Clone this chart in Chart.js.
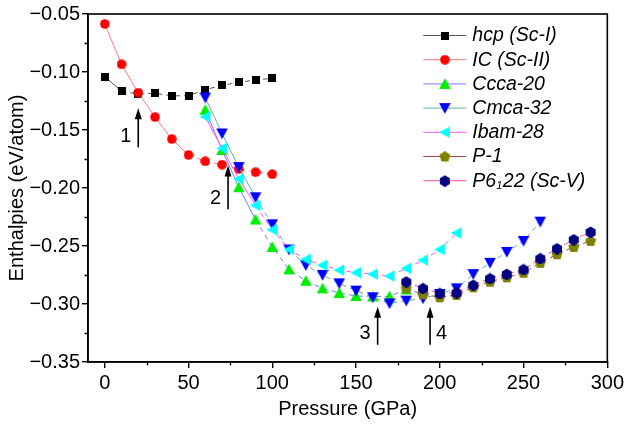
<!DOCTYPE html>
<html><head><meta charset="utf-8">
<script src="https://cdn.jsdelivr.net/npm/chart.js@4/dist/chart.umd.min.js"></script>
<style>html,body{margin:0;padding:0;background:#fff}canvas{display:block}</style>
</head><body><canvas id="c" width="627" height="424"></canvas>
<script>
// ---- data ----
const pressHcpIC = [0,10,20,30,40,50,60,70,80,90,100];
const hcpEnth = [-0.1040,-0.1166,-0.1190,-0.1183,-0.1206,-0.1204,-0.1152,-0.1115,-0.1089,-0.1069,-0.1054];
const icEnth  = [-0.0586,-0.0934,-0.1178,-0.1389,-0.1578,-0.1715,-0.1770,-0.1798,-0.1836,-0.1864,-0.1881];
const pressCcca = [60,70,80,90,100,110,120,130,140,150,160,170,180];
const cccaEnth  = [-0.1326,-0.1672,-0.1993,-0.2272,-0.2508,-0.2702,-0.2800,-0.2865,-0.2905,-0.2931,-0.2935,-0.2934,-0.2875];
const pressCmca = [60,70,80,90,100,110,120,130,140,150,160,170,180,190,200,210,220,230,240,250,260];
const cmcaEnth  = [-0.1220,-0.1530,-0.1820,-0.2080,-0.2313,-0.2530,-0.2665,-0.2750,-0.2822,-0.2885,-0.2942,-0.2995,-0.2971,-0.2951,-0.2914,-0.2865,-0.2742,-0.2645,-0.2551,-0.2456,-0.2290];
const pressIbam = [60,70,80,90,100,110,120,130,140,150,160,170,180,190,200,210];
const ibamEnth  = [-0.1386,-0.1658,-0.1921,-0.2150,-0.2359,-0.2530,-0.2616,-0.2665,-0.2708,-0.2729,-0.2742,-0.2759,-0.2693,-0.2622,-0.2530,-0.2388];
const pressHigh = [180,190,200,210,220,230,240,250,260,270,280,290];
const p1Enth    = [-0.2865,-0.2916,-0.2942,-0.2922,-0.2856,-0.2808,-0.2770,-0.2731,-0.2645,-0.2571,-0.2508,-0.2456];
const p6122Enth = [-0.2808,-0.2865,-0.2908,-0.2903,-0.2837,-0.2780,-0.2742,-0.2702,-0.2607,-0.2522,-0.2444,-0.2379];
const seriesNames = ['hcp (Sc-I)','IC (Sc-II)','Ccca-20','Cmca-32','Ibam-28','P-1','P6\u208122 (Sc-V)'];
const xTickValues = [0,50,100,150,200,250,300];
const xMinorTicks = [25,75,125,175,225,275];
const yTickValues = [-0.35,-0.30,-0.25,-0.20,-0.15,-0.10,-0.05];
const yMinorTicks = [-0.325,-0.275,-0.225,-0.175,-0.125,-0.075];
// transition arrows: pressure, arrow tip enthalpy, tail enthalpy, label
const arrowP     = [20, 73.6, 162.9, 194.2];
const arrowTip   = [-0.1312,-0.1807,-0.3023,-0.3023];
const arrowTail  = [-0.165,-0.2184,-0.3351,-0.3351];
const arrowLabel = ['1','2','3','4'];

// ---- styles ----
function marker(shape, color, S) {
  const c = document.createElement('canvas'); c.width = S; c.height = S;
  const g = c.getContext('2d'); g.fillStyle = color; g.beginPath();
  const m = S/2;
  if (shape === 'square') { g.rect(0,0,S,S); }
  else if (shape === 'circle') { g.arc(m,m,m-0.2,0,Math.PI*2); }
  else if (shape === 'up') { g.moveTo(m,0.3); g.lineTo(S-0.2,S-1); g.lineTo(0.2,S-1); }
  else if (shape === 'down') { g.moveTo(0.2,1); g.lineTo(S-0.2,1); g.lineTo(m,S-0.3); }
  else if (shape === 'left') { g.moveTo(0.3,m); g.lineTo(S-1,0.2); g.lineTo(S-1,S-0.2); }
  else if (shape === 'pent' || shape === 'hex') {
    const n = shape === 'pent' ? 5 : 6; const r = m - 0.2;
    for (let i=0;i<n;i++){ const a = -Math.PI/2 + i*2*Math.PI/n; const px = m + r*Math.cos(a), py = m + 0.4 + r*Math.sin(a); if(i===0) g.moveTo(px,py); else g.lineTo(px,py);} 
  }
  g.closePath(); g.fill();
  return c;
}
const markers = [
  marker('square','#000000',8),
  marker('circle','#ff0000',10),
  marker('up','#00ee00',12),
  marker('down','#0000ff',12),
  marker('left','#00ffff',12),
  marker('pent','#808000',12),
  marker('hex','#000080',12)
];
const lineColors = ['#555555','#ff7878','#7878ff','#5fb0b0','#ff55ff','#a04848','#ff4aa0'];
const solidTo = [10,50,90,90,90,-1,-1];

function pts(xs, ys){ return xs.map((x,i)=>({x:x,y:ys[i]})); }
const allData = [
  pts(pressHcpIC,hcpEnth), pts(pressHcpIC,icEnth), pts(pressCcca,cccaEnth),
  pts(pressCmca,cmcaEnth), pts(pressIbam,ibamEnth), pts(pressHigh,p1Enth), pts(pressHigh,p6122Enth)
];
const datasets = allData.map((d,i)=>({
  label: seriesNames[i], data: d, showLine: true,
  borderColor: lineColors[i], borderWidth: 1, pointStyle: markers[i],
  pointRadius: 5, pointHoverRadius: 5, order: 10 - i,
  segment: { borderDash: ctx => (ctx.p1.parsed.x > solidTo[i] ? [5,4] : undefined) }
}));

const FONT = "'Liberation Sans', Arial, sans-serif";

const decor = {
  id: 'decor',
  afterDraw(chart) {
    const {ctx, chartArea: a, scales: {x, y}} = chart;
    ctx.save();
    ctx.strokeStyle = '#000'; ctx.lineWidth = 1.6;
    ctx.strokeRect(a.left, a.top, a.right - a.left, a.bottom - a.top);
    ctx.lineWidth = 1.3;
    ctx.beginPath();
    xMinorTicks.forEach(v => { const px = Math.round(x.getPixelForValue(v)) + 0.5; ctx.moveTo(px, a.bottom); ctx.lineTo(px, a.bottom + 3.5); });
    yMinorTicks.forEach(v => { const py = Math.round(y.getPixelForValue(v)) + 0.5; ctx.moveTo(a.left, py); ctx.lineTo(a.left - 3.5, py); });
    ctx.stroke();
    // arrows
    ctx.fillStyle = '#000'; ctx.strokeStyle = '#000';
    ctx.font = '20px ' + FONT; ctx.textAlign = 'center'; ctx.textBaseline = 'middle';
    arrowP.forEach((p,i) => {
      const px = x.getPixelForValue(p), pt = y.getPixelForValue(arrowTip[i]), pb = y.getPixelForValue(arrowTail[i]);
      ctx.lineWidth = 1.6; ctx.beginPath(); ctx.moveTo(px, pb); ctx.lineTo(px, pt + 8); ctx.stroke();
      ctx.beginPath(); ctx.moveTo(px, pt); ctx.lineTo(px - 3.5, pt + 11); ctx.lineTo(px + 3.5, pt + 11); ctx.closePath(); ctx.fill();
      const lx = i === 3 ? px + 11.5 : px - 12.5;
      ctx.fillText(arrowLabel[i], lx, pb - 11);
    });
    // legend
    const lx0 = a.right - 184, ly0 = a.top + 21, dy = 24.2;
    chart.data.datasets.forEach((ds,i) => {
      const yy = ly0 + i*dy;
      ctx.strokeStyle = ds.borderColor; ctx.lineWidth = 1; ctx.setLineDash([]);
      ctx.beginPath(); ctx.moveTo(lx0, yy + 0.5); ctx.lineTo(lx0 + 43, yy + 0.5); ctx.stroke();
      const im = ds.pointStyle; ctx.drawImage(im, lx0 + 21.5 - im.width/2, yy + 0.5 - im.height/2);
      ctx.fillStyle = '#000'; ctx.textAlign = 'left'; ctx.textBaseline = 'middle';
      let tx = lx0 + 49;
      const parts = ds.label.split('\u2081');
      ctx.font = 'italic 19.5px ' + FONT;
      ctx.fillText(parts[0], tx, yy + 1); tx += ctx.measureText(parts[0]).width;
      if (parts.length > 1) {
        ctx.font = 'italic 11px ' + FONT; ctx.fillText('1', tx, yy + 6); tx += ctx.measureText('1').width + 0.5;
        ctx.font = 'italic 19.5px ' + FONT; ctx.fillText(parts[1], tx, yy + 1);
      }
    });
    ctx.restore();
  }
};

new Chart(document.getElementById('c'), {
  type: 'scatter',
  data: { datasets },
  options: {
    responsive: false, animation: false, events: [],
    layout: { padding: { top: 13, right: 18, left: 0, bottom: 0 } },
    plugins: { legend: { display: false }, tooltip: { enabled: false } },
    scales: {
      x: {
        type: 'linear', min: -10, max: 300,
        afterBuildTicks: s => { s.ticks = xTickValues.map(v => ({value: v})); },
        afterFit: s => { s.height = 62; },
        ticks: { color: '#000', font: { family: FONT, size: 20 }, padding: 3, maxRotation: 0, callback: v => String(v) },
        grid: { display: true, drawOnChartArea: false, drawTicks: true, tickLength: 6, color: '#000', lineWidth: 1.4 },
        border: { display: true, color: '#000', width: 1.6 },
        title: { display: true, text: 'Pressure (GPa)', color: '#000', font: { family: FONT, size: 20 }, padding: { top: 0, bottom: 3 } }
      },
      y: {
        type: 'linear', min: -0.35, max: -0.05,
        afterBuildTicks: s => { s.ticks = yTickValues.map(v => ({value: v})); },
        afterFit: s => { s.width = 88; },
        ticks: { color: '#000', font: { family: FONT, size: 20 }, padding: 2, callback: v => v.toFixed(2).replace('-', '\u2212') },
        grid: { display: true, drawOnChartArea: false, drawTicks: true, tickLength: 6, color: '#000', lineWidth: 1.4 },
        border: { display: true, color: '#000', width: 1.6 },
        title: { display: true, text: 'Enthalpies (eV/atom)', color: '#000', font: { family: FONT, size: 20 }, padding: { top: 5, bottom: 0 } }
      }
    }
  },
  plugins: [decor]
});
</script>
</body></html>
